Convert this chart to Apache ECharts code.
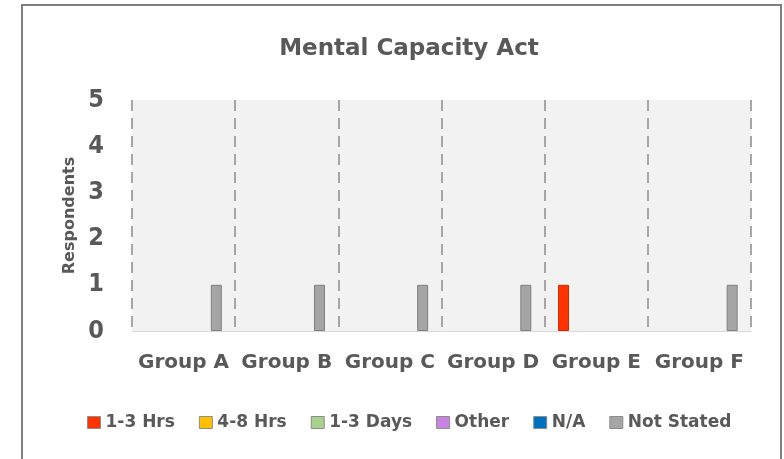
<!DOCTYPE html>
<html>
<head>
<meta charset="utf-8">
<script src="https://cdn.jsdelivr.net/npm/echarts@6/dist/echarts.min.js"></script>
<style>
  html, body { margin: 0; padding: 0; background: #fff; }
  #chart { width: 784px; height: 459px; }
</style>
</head>
<body>
<div id="chart"></div>
<script>
// chart data
const groups = ['Group A', 'Group B', 'Group C', 'Group D', 'Group E', 'Group F']
const seriesNames = ['1-3 Hrs', '4-8 Hrs', '1-3 Days', 'Other', 'N/A', 'Not Stated']
const hrs13 = [0, 0, 0, 0, 1, 0]
const hrs48 = [0, 0, 0, 0, 0, 0]
const days13 = [0, 0, 0, 0, 0, 0]
const other = [0, 0, 0, 0, 0, 0]
const na = [0, 0, 0, 0, 0, 0]
const notStated = [1, 1, 1, 1, 0, 1]
const yTicks = [0, 1, 2, 3, 4, 5]

const colors = ['#ff3300', '#ffc000', '#a9d18e', '#c983e0', '#0070c0', '#a5a5a5']
const borders = ['#d02a00', '#c99700', '#86a96e', '#9e63b2', '#00589a', '#7f7f7f']
const values = [hrs13, hrs48, days13, other, na, notStated]

const font = '"DejaVu Sans", sans-serif'
const narrowFont = '"Liberation Sans Narrow", "DejaVu Sans Condensed", "DejaVu Sans", sans-serif'
const textColor = '#595959'

const chart = echarts.init(document.getElementById('chart'))

chart.setOption({
  animation: false,
  textStyle: { fontFamily: font },
  title: {
    text: 'Mental Capacity Act',
    left: 404,
    top: 33,
    textAlign: 'center',
    textStyle: { fontSize: 23, fontWeight: 'bold', color: textColor, fontFamily: font }
  },
  graphic: [{
    type: 'rect',
    shape: { x: 22, y: 5, width: 759, height: 480 },
    style: { fill: 'none', stroke: '#7f7f7f', lineWidth: 2 },
    silent: true
  }],
  legend: {
    data: seriesNames,
    left: 82,
    top: 409,
    itemWidth: 13,
    itemHeight: 12,
    itemGap: 24,
    icon: 'rect',
    itemStyle: { borderColor: '#8c8c8c', borderWidth: 1 },
    textStyle: { fontSize: 17, fontWeight: 'bold', color: textColor, fontFamily: font }
  },
  grid: {
    left: 132,
    right: 33,
    top: 100,
    bottom: 128,
    show: true,
    backgroundColor: '#f2f2f2',
    borderWidth: 0
  },
  xAxis: {
    type: 'category',
    data: groups,
    axisTick: { show: false },
    axisLine: { lineStyle: { color: '#d9d9d9', width: 1 } },
    axisLabel: { fontSize: 20, fontWeight: 'bold', color: textColor, margin: 22, interval: 0 },
    splitLine: {
      show: true,
      interval: 0,
      lineStyle: { color: '#a6a6a6', width: 2, type: [11, 7] }
    }
  },
  yAxis: {
    type: 'value',
    min: yTicks[0],
    max: yTicks[yTicks.length - 1],
    interval: 1,
    name: 'Respondents',
    nameLocation: 'middle',
    nameGap: 54,
    nameTextStyle: { fontSize: 16, fontWeight: 'bold', color: textColor },
    axisLine: { show: false },
    axisTick: { show: false },
    splitLine: { show: false },
    axisLabel: { fontSize: 25, fontWeight: 'bold', color: textColor, margin: 28, fontFamily: narrowFont }
  },
  series: seriesNames.map((name, i) => ({
    name: name,
    type: 'bar',
    // zero-height bars should not show an outline
    data: values[i].map(v => (v === 0 ? { value: v, itemStyle: { borderWidth: 0 } } : v)),
    barWidth: 11,
    barGap: '19%',
    itemStyle: { color: colors[i], borderColor: borders[i], borderWidth: 1 }
  }))
})
</script>
</body>
</html>
